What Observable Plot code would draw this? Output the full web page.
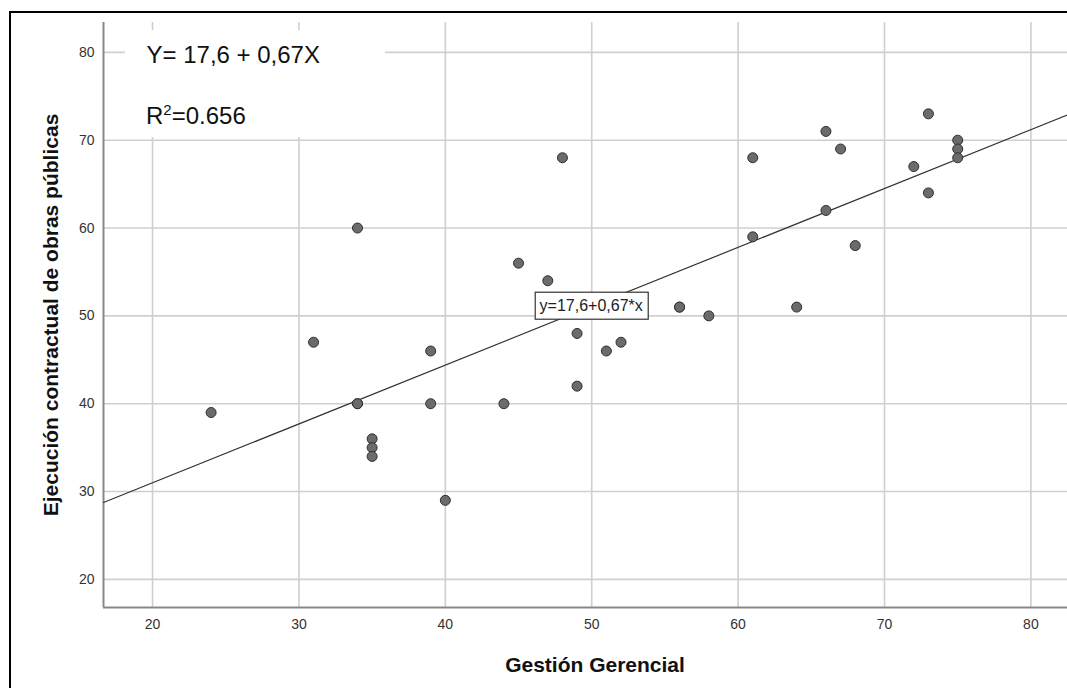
<!DOCTYPE html>
<html><head><meta charset="utf-8">
<script src="https://cdn.jsdelivr.net/npm/d3@7"></script>
<script src="https://cdn.jsdelivr.net/npm/@observablehq/plot@0.6"></script>
<style>
body{margin:0;background:#fff;font-family:"Liberation Sans",Arial,sans-serif;}
#wrap{position:relative;width:1067px;height:688px;overflow:hidden;}
#wrap svg{position:absolute;left:0;top:0;}
#border{position:absolute;left:9px;top:11px;width:1100px;height:720px;border:2px solid #000;pointer-events:none;}
</style></head><body><div id="wrap"></div>
<script>
// Data
const gestion   = [24,31,34,34,34,35,35,35,39,39,40,44,45,47,48,49,49,51,52,56,56,58,61,61,64,66,66,67,68,72,73,73,75,75,75];
const ejecucion = [39,47,60,40,40,36,35,34,46,40,29,40,56,54,68,48,42,46,47,51,51,50,68,59,51,71,62,69,58,67,73,64,70,69,68];
const xTicks = [20,30,40,50,60,70,80];
const yTicks = [20,30,40,50,60,70,80];
const intercept = 17.6, slope = 0.67;
const eqText = "Y= 17,6 + 0,67X";
const r2Parts = ["R", "2", "=0.656"];
const lineLabel = "y=17,6+0,67*x";
const labelAtX = 50;
const xTitle = "Gestión Gerencial";
const yTitle = "Ejecución contractual de obras públicas";
const xDomain = [16.65, 82.5], yDomain = [16.8, 83.4];

const FONT = '"Liberation Sans",Arial,sans-serif';
const pts = gestion.map((g,i)=>({x:g, y:ejecucion[i]}));
const fitLine = xDomain.map(x=>({x, y: intercept + slope*x}));

const whiteBox = (index, scales, values, dim) => {
  const g = d3.create("svg:g");
  g.append("rect").attr("x", dim.marginLeft+22).attr("y", dim.marginTop+8)
    .attr("width", 260).attr("height", 107).attr("fill", "#fff");
  return g.node();
};
const r2Mark = (index, scales, values, dim) => {
  const g = d3.create("svg:g");
  const t = g.append("text").attr("x", dim.marginLeft+43).attr("y", dim.marginTop+102)
    .attr("text-anchor", "start")
    .attr("font-size", 24).attr("font-family", FONT).attr("fill", "#111");
  t.append("tspan").text(r2Parts[0]);
  t.append("tspan").attr("font-size", 15).attr("dy", -9).text(r2Parts[1]);
  t.append("tspan").attr("dy", 9).text(r2Parts[2]);
  return g.node();
};
const eqBox = (index, scales, values, dim) => {
  const cx = scales.x(labelAtX), cy = scales.y(intercept + slope*labelAtX);
  const g = d3.create("svg:g");
  g.append("rect").attr("x", cx-56).attr("y", cy-13.5).attr("width", 113).attr("height", 27)
    .attr("fill", "#fff").attr("stroke", "#333").attr("stroke-width", 1.2);
  g.append("text").attr("x", cx).attr("y", cy).attr("text-anchor","middle").attr("dy","0.35em")
    .attr("font-size", 16).attr("fill","#222").attr("font-family", FONT).text(lineLabel);
  return g.node();
};

const chart = Plot.plot({
  width: 1067, height: 688,
  marginLeft: 103, marginTop: 22, marginRight: 0, marginBottom: 81,
  style: {fontFamily: FONT, background: "transparent"},
  x: {domain: xDomain},
  y: {domain: yDomain},
  marks: [
    Plot.gridX(xTicks, {stroke: "#cfcfcf", strokeOpacity: 1, strokeWidth: 1.6}),
    Plot.gridY(yTicks, {stroke: "#cfcfcf", strokeOpacity: 1, strokeWidth: 1.6}),
    whiteBox,
    Plot.axisX(xTicks, {tickSize: 0, tickPadding: 12, fontSize: 14, fill: "#333", label: null}),
    Plot.axisY(yTicks, {tickSize: 0, tickPadding: 9, fontSize: 14, fill: "#333", label: null}),
    Plot.ruleY([yDomain[0]], {stroke: "#888", strokeWidth: 2}),
    Plot.ruleX([xDomain[0]], {stroke: "#888", strokeWidth: 2}),
    Plot.line(fitLine, {x: "x", y: "y", stroke: "#333", strokeWidth: 1.2}),
    Plot.dot(pts, {x: "x", y: "y", r: 5, fill: "#6b6b6b", stroke: "#2f2f2f", strokeWidth: 1, fillOpacity: 1}),
    eqBox,
    Plot.text([eqText], {frameAnchor: "top-left", dx: 43, dy: 33, fontSize: 24, fill: "#111", textAnchor: "start", lineAnchor: "middle"}),
    r2Mark,
    Plot.text([xTitle], {frameAnchor: "bottom", dx: 9.5, dy: 58, fontSize: 21, fontWeight: "bold", fill: "#111", textAnchor: "middle", lineAnchor: "middle"}),
    Plot.text([yTitle], {frameAnchor: "left", dx: -52.7, dy: 0, rotate: -90, fontSize: 21, fontWeight: "bold", fill: "#111", textAnchor: "middle", lineAnchor: "middle"})
  ]
});
const wrap = document.getElementById("wrap");
wrap.appendChild(chart);
const b = document.createElement("div"); b.id = "border"; wrap.appendChild(b);
</script></body></html>
